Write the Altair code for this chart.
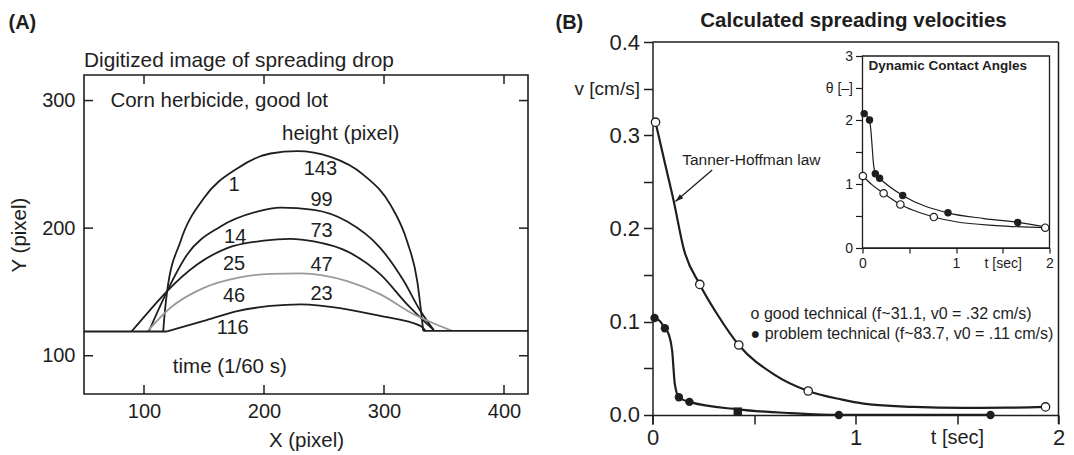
import altair as alt
import pandas as pd

FONT = "Liberation Sans"
INK = "#1e1e1e"

a_x_ticks = [100, 200, 300, 400]
a_y_ticks = [100, 200, 300]
a_frame = {"x": [50], "x2": [420], "y": [70], "y2": [320]}   # axis limits of the framed plot

drop_1_x = [116, 117.4, 119.3, 130.4, 149.8, 177.7, 205.4, 227.7, 255.4, 283.2, 305.4, 319.3, 327.7, 332.7]
drop_1_y = [119, 135, 150.7, 189.6, 223.4, 246.8, 258.5, 260.3, 255.9, 241.6, 218.2, 189.6, 158.5, 119.5]
drop_14_x = [104, 119.3, 136, 163.8, 194.3, 213.8, 241.5, 269.3, 297, 316.5, 330.4, 341.5]
drop_14_y = [119, 150.7, 179.3, 201.3, 213, 216.1, 214.3, 205.2, 184.4, 158.5, 135, 120]
drop_25_x = [89.6, 104.3, 119.3, 144.3, 169.3, 199.8, 222, 241.5, 269.3, 297, 319.3, 341.5]
drop_25_y = [119, 135, 150.7, 171.5, 184.4, 190.2, 191.6, 189.6, 181.8, 163.7, 140.3, 120]
drop_46_x = [102.7, 122, 149.8, 177.7, 205.4, 230.4, 269.3, 297, 324.8, 356.8]
drop_46_y = [119, 137.6, 153.2, 161, 164.2, 164.6, 158.5, 148.1, 132.5, 119.5]
drop_116_x = [119.3, 149.8, 177.7, 205.4, 230.4, 269.3, 297, 330.4, 334.6]
drop_116_y = [119, 127.3, 135, 139, 140.3, 136.4, 131.2, 123.4, 119.5]
base_left_x = [50, 119.3]
base_left_y = [119, 119]
base_right_x = [332.7, 420]
base_right_y = [119.5, 119.5]

time_labels = ["1", "14", "25", "46", "116"]
time_label_x = [175, 176, 175, 175, 174]
time_label_y = [233.8, 192.7, 171.9, 146.8, 122]
height_labels = ["143", "99", "73", "47", "23"]
height_label_x = [247, 248, 248, 248, 248]
height_label_y = [246.3, 222.1, 197.4, 170.9, 148.1]

a_notes = ["Corn herbicide, good lot", "height (pixel)", "time (1/60 s)"]
a_notes_x = [72, 215, 124]
a_notes_y = [300, 274, 91]

# ---------------- Panel B : spreading velocities ----------------
good_t = [0.015, 0.233, 0.425, 0.767, 1.936]
good_v = [0.314, 0.140, 0.075, 0.0257, 0.0086]
prob_t = [0.01, 0.061, 0.13, 0.182, 0.42, 0.918, 1.665]
prob_v = [0.104, 0.093, 0.019, 0.014, 0.0036, 0.0, 0.0]
prob_shape = ["circle", "circle", "circle", "circle", "square", "circle", "circle"]

good_fit_t = [0.015, 0.059, 0.105, 0.154, 0.233, 0.319, 0.425, 0.598, 0.767, 0.926, 1.04, 1.287, 1.533, 1.75, 1.936]
good_fit_v = [0.314, 0.272, 0.229, 0.178, 0.140, 0.108, 0.075, 0.0436, 0.0257, 0.0168, 0.0121, 0.0086, 0.0076, 0.0078, 0.0086]
prob_fit_t = [0.01, 0.035, 0.061, 0.08, 0.097, 0.11, 0.13, 0.182, 0.42, 0.68, 0.918, 1.665]
prob_fit_v = [0.104, 0.101, 0.093, 0.0865, 0.0686, 0.033, 0.019, 0.014, 0.006, 0.002, 0.0, 0.0]

b_y_ticks = [0.0, 0.05, 0.1, 0.15, 0.2, 0.25, 0.3, 0.35, 0.4]
b_y_labels = ["0.0", "", "0.1", "", "0.2", "", "0.3", "v [cm/s]", "0.4"]
b_x_ticks = [0, 0.5, 1, 1.5, 2]
b_x_labels = ["0", "", "1", "t [sec]", "2"]

b_notes = ["Tanner-Hoffman law",
           "o good technical (f~31.1, v0 = .32 cm/s)",
           "\u25cf problem technical (f~83.7, v0 = .11 cm/s)"]
b_notes_t = [0.146, 0.483, 0.483]
b_notes_v = [0.273, 0.108, 0.0871]
arrow_tail = [0.294, 0.2626]
arrow_tip = [0.113, 0.229]

# ---------------- Inset : dynamic contact angles ----------------
in_good_t = [0.004, 0.226, 0.405, 0.763, 1.954]
in_good_th = [1.125, 0.855, 0.68, 0.484, 0.317]
in_prob_t = [0.018, 0.075, 0.137, 0.183, 0.43, 0.914, 1.66]
in_prob_th = [2.10, 2.0, 1.16, 1.09, 0.82, 0.55, 0.40]
in_good_fit_t = [0.004, 0.1, 0.226, 0.405, 0.55, 0.763, 1.0, 1.43, 1.954]
in_good_fit_th = [1.125, 0.99, 0.855, 0.68, 0.585, 0.484, 0.41, 0.35, 0.317]
in_prob_fit_t = [0.018, 0.075, 0.09, 0.118, 0.137, 0.183, 0.43, 0.914, 1.3, 1.66, 1.954]
in_prob_fit_th = [2.10, 2.0, 1.83, 1.31, 1.16, 1.09, 0.82, 0.55, 0.46, 0.40, 0.33]
in_y_ticks = [0, 0.5, 1, 1.5, 2, 2.5, 3]
in_y_labels = ["0", "", "1", "", "2", "\u03b8 [\u2013]", "3"]
in_x_ticks = [0, 0.5, 1, 1.5, 2]
in_x_labels = ["0", "", "1", "t [sec]", "2"]


def label_expr(vals, labs):
    expr = "''"
    for v, l in zip(vals, labs):
        expr = f"abs(datum.value - {v}) < 1e-6 ? '{l}' : ({expr})"
    return expr


one = pd.DataFrame({"k": [0]})

# ======================= Panel A chart =======================
A_W, A_H = 444, 352
A_TOP = 33          # pixel offset of the framed area below the common top line
curves = []
for name, xs, ys, col in [
    ("1", drop_1_x, drop_1_y, INK), ("14", drop_14_x, drop_14_y, INK),
    ("25", drop_25_x, drop_25_y, INK), ("46", drop_46_x, drop_46_y, "#9a9a9a"),
    ("116", drop_116_x, drop_116_y, INK), ("bl", base_left_x, base_left_y, INK),
    ("br", base_right_x, base_right_y, INK)]:
    for i, (x, y) in enumerate(zip(xs, ys)):
        curves.append({"curve": name, "o": i, "x": x, "y": y, "col": col})
dfA = pd.DataFrame(curves)

sxA = alt.Scale(domain=[50, 420], nice=False, zero=False)
syA = alt.Scale(domain=[70, 345.9], nice=False, zero=False)
axXA = alt.Axis(values=a_x_ticks, title="X (pixel)", grid=False, domain=False, ticks=False,
                labelPadding=7, labelFontSize=20, labelFont=FONT, labelColor=INK, labelFlush=False,
                titleFont=FONT, titleFontSize=20.5, titleFontWeight="normal", titleColor=INK, titlePadding=9)
axYA = alt.Axis(values=a_y_ticks, title="Y (pixel)", grid=False, domain=False, ticks=False,
                labelPadding=9, labelFontSize=20, labelFont=FONT, labelColor=INK, labelFlush=False,
                titleFont=FONT, titleFontSize=20.5, titleFontWeight="normal", titleColor=INK, titlePadding=12,
                titleY=A_TOP + (A_H - A_TOP) / 2)
XA = alt.X("x:Q", scale=sxA, axis=axXA)
YA = alt.Y("y:Q", scale=syA, axis=axYA)

a_box = alt.Chart(pd.DataFrame(a_frame)).mark_rect(fill="transparent", stroke=INK, strokeWidth=1.6).encode(
    x=XA, x2="x2:Q", y=YA, y2="y2:Q")
a_lines = alt.Chart(dfA).mark_line(interpolate="monotone", strokeWidth=1.8).encode(
    x=XA, y=YA, detail="curve:N", order="o:Q", color=alt.Color("col:N", scale=None))

dfXT = pd.DataFrame({"x": a_x_ticks})
dfYT = pd.DataFrame({"y": a_y_ticks})
tick_style = dict(color=INK, strokeWidth=1.5)
a_tb = alt.Chart(dfXT).mark_rule(**tick_style).encode(x=XA, y=alt.value(A_H), y2=alt.value(A_H - 9))
a_tt = alt.Chart(dfXT).mark_rule(**tick_style).encode(x=XA, y=alt.value(A_TOP), y2=alt.value(A_TOP + 9))
a_tl = alt.Chart(dfYT).mark_rule(**tick_style).encode(y=YA, x=alt.value(0), x2=alt.value(9))
a_tr = alt.Chart(dfYT).mark_rule(**tick_style).encode(y=YA, x=alt.value(A_W), x2=alt.value(A_W - 9))

dfLab = pd.DataFrame({"x": time_label_x + height_label_x, "y": time_label_y + height_label_y,
                      "t": time_labels + height_labels})
a_nums = alt.Chart(dfLab).mark_text(font=FONT, fontSize=20, color=INK, align="center", baseline="middle").encode(
    x=XA, y=YA, text="t:N")
dfNotes = pd.DataFrame({"x": a_notes_x, "y": a_notes_y, "t": a_notes})
a_notes_l = alt.Chart(dfNotes).mark_text(font=FONT, fontSize=20.5, color=INK, align="left", baseline="middle").encode(
    x=XA, y=YA, text="t:N")

a_tag = alt.Chart(one).mark_text(text="(A)", font=FONT, fontSize=20, fontWeight="bold", color=INK,
                                 align="left", baseline="middle").encode(x=alt.value(-75.5), y=alt.value(-19))
a_title = alt.Chart(one).mark_text(text="Digitized image of spreading drop", font=FONT, fontSize=20.8, color=INK,
                                   align="left", baseline="middle").encode(x=alt.value(0), y=alt.value(19))
anchor = alt.Chart(one).mark_rule(opacity=0, strokeWidth=0).encode(
    x=alt.value(-83.5), x2=alt.value(-83.5), y=alt.value(-41), y2=alt.value(-40.5))

panelA = alt.layer(a_box, a_lines, a_tb, a_tt, a_tl, a_tr, a_nums, a_notes_l, a_tag, a_title, anchor).properties(
    width=A_W, height=A_H, view=alt.ViewBackground(stroke="transparent", fill="white"))

# ======================= Panel B chart =======================
B_W, B_H = 406, 382
B_ZERO = 9          # the t axis sits on v = 0, a little above the bottom of the frame
sxB = alt.Scale(domain=[0, 2], nice=False, zero=False)
syB = alt.Scale(domain=[-0.0097, 0.4], nice=False, zero=False)
axXB = alt.Axis(values=b_x_ticks, labelExpr=label_expr(b_x_ticks, b_x_labels), title=None, grid=False,
                offset=-B_ZERO,
                domainColor=INK, domainWidth=1.5, tickColor=INK, tickWidth=1.5, tickSize=9,
                labelPadding=3, labelFont=FONT, labelColor=INK, labelFlush=False, labelOverlap=False,
                labelFontSize={"condition": {"test": "datum.value == 1.5", "value": 20}, "value": 22})
axYB = alt.Axis(values=b_y_ticks, labelExpr=label_expr(b_y_ticks, b_y_labels), title=None, grid=False,
                domainColor=INK, domainWidth=1.5, tickColor=INK, tickWidth=1.5, tickSize=9,
                labelPadding=4, labelFont=FONT, labelColor=INK, labelFlush=False, labelOverlap=False,
                labelFontSize={"condition": {"test": "datum.value == 0.35", "value": 19}, "value": 22})
XB = alt.X("t:Q", scale=sxB, axis=axXB)
YB = alt.Y("v:Q", scale=syB, axis=axYB)

fitB = pd.DataFrame({"t": good_fit_t + prob_fit_t, "v": good_fit_v + prob_fit_v,
                     "s": ["good"] * len(good_fit_t) + ["prob"] * len(prob_fit_t),
                     "o": list(range(len(good_fit_t))) + list(range(len(prob_fit_t)))})
b_lines = alt.Chart(fitB).mark_line(interpolate="monotone", strokeWidth=2.2, color=INK).encode(
    x=XB, y=YB, detail="s:N", order="o:Q")
b_good = alt.Chart(pd.DataFrame({"t": good_t, "v": good_v})).mark_point(
    shape="circle", filled=True, fill="white", stroke=INK, strokeWidth=1.3, size=70, opacity=1).encode(x=XB, y=YB)
b_prob = alt.Chart(pd.DataFrame({"t": prob_t, "v": prob_v, "sh": prob_shape})).mark_point(
    filled=True, color=INK, size=70, opacity=1).encode(x=XB, y=YB, shape=alt.Shape("sh:N", scale=None))

b_txt = alt.Chart(pd.DataFrame({"t": b_notes_t, "v": b_notes_v, "txt": b_notes, "fs": [15.5, 16, 16]})).mark_text(
    font=FONT, color=INK, align="left", baseline="middle").encode(
    x=XB, y=YB, text="txt:N", size=alt.Size("fs:Q", scale=None))
b_arrow = alt.Chart(pd.DataFrame({"t": [arrow_tail[0]], "v": [arrow_tail[1]],
                                  "t2": [arrow_tip[0]], "v2": [arrow_tip[1]]})).mark_rule(
    color=INK, strokeWidth=1.3).encode(x=XB, y=YB, x2="t2:Q", y2="v2:Q")
b_head = alt.Chart(pd.DataFrame({"t": [arrow_tip[0]], "v": [arrow_tip[1]]})).mark_point(
    shape="M0,0L-0.8,2.4L0.8,2.4Z", filled=True, color=INK, size=45, angle=230, opacity=1).encode(x=XB, y=YB)

b_top = alt.Chart(one).mark_rule(color=INK, strokeWidth=1.5).encode(
    x=alt.value(0), x2=alt.value(B_W), y=alt.value(0))
b_right = alt.Chart(one).mark_rule(color=INK, strokeWidth=1.5).encode(
    x=alt.value(B_W), y=alt.value(0), y2=alt.value(B_H))

b_tag = alt.Chart(one).mark_text(text="(B)", font=FONT, fontSize=20, fontWeight="bold", color=INK,
                                 align="left", baseline="middle").encode(x=alt.value(-97), y=alt.value(-19))
b_title = alt.Chart(one).mark_text(text="Calculated spreading velocities", font=FONT, fontSize=20.5,
                                   fontWeight="bold", color=INK, align="center", baseline="middle").encode(
    x=alt.value(B_W / 2 - 2), y=alt.value(-21))

main_b = alt.layer(b_lines, b_good, b_prob, b_txt, b_arrow, b_head, b_top, b_right, b_tag, b_title)

# ======================= Inset (own scales, placed inside panel B) =======================
I_X0, I_X1 = 210, 397      # inset plot frame inside panel B (pixels)
I_Y0, I_Y1 = 14, 206
sxI = alt.Scale(domain=[0, 2], nice=False, zero=False, range=[I_X0, I_X1])
syI = alt.Scale(domain=[0, 3], nice=False, zero=False, range=[I_Y1, I_Y0])
axXI = alt.Axis(values=in_x_ticks, labelExpr=label_expr(in_x_ticks, in_x_labels), title=None, grid=False,
                orient="bottom", offset=I_Y1 - B_H,
                domainColor=INK, domainWidth=1.2, tickColor=INK, tickWidth=1.2, tickSize=5,
                labelPadding=3, labelFontSize=14, labelFont=FONT, labelColor=INK, labelFlush=False,
                labelOverlap=False)
axYI = alt.Axis(values=in_y_ticks, labelExpr=label_expr(in_y_ticks, in_y_labels), title=None, grid=False,
                orient="left", offset=-I_X0,
                domainColor=INK, domainWidth=1.2, tickColor=INK, tickWidth=1.2, tickSize=7,
                labelPadding=3, labelFontSize=14, labelFont=FONT, labelColor=INK, labelFlush=False,
                labelOverlap=False)
XI = alt.X("t:Q", scale=sxI, axis=axXI)
YI = alt.Y("th:Q", scale=syI, axis=axYI)

i_frame = alt.Chart(pd.DataFrame({"t": [0], "t2": [2], "th": [0], "th2": [3]})).mark_rect(
    fill="white", stroke=INK, strokeWidth=1.3).encode(x=XI, x2="t2:Q", y=YI, y2="th2:Q")
fitI = pd.DataFrame({"t": in_good_fit_t + in_prob_fit_t, "th": in_good_fit_th + in_prob_fit_th,
                     "s": ["good"] * len(in_good_fit_t) + ["prob"] * len(in_prob_fit_t),
                     "o": list(range(len(in_good_fit_t))) + list(range(len(in_prob_fit_t)))})
i_lines = alt.Chart(fitI).mark_line(interpolate="monotone", strokeWidth=1.2, color=INK).encode(
    x=XI, y=YI, detail="s:N", order="o:Q")
i_good = alt.Chart(pd.DataFrame({"t": in_good_t, "th": in_good_th})).mark_point(
    shape="circle", filled=True, fill="white", stroke=INK, strokeWidth=1.2, size=55, opacity=1).encode(x=XI, y=YI)
i_prob = alt.Chart(pd.DataFrame({"t": in_prob_t, "th": in_prob_th})).mark_point(
    shape="circle", filled=True, color=INK, size=55, opacity=1).encode(x=XI, y=YI)
i_title = alt.Chart(one).mark_text(text="Dynamic Contact Angles", font=FONT, fontSize=13.5, fontWeight="bold",
                                   color=INK, align="left", baseline="middle").encode(
    x=alt.value(I_X0 + 6), y=alt.value(I_Y0 + 10))

inset = alt.layer(i_frame, i_lines, i_good, i_prob, i_title)

panelB = alt.layer(main_b, inset).resolve_scale(x="independent", y="independent").properties(
    width=B_W, height=B_H, view=alt.ViewBackground(stroke="transparent", fill="white"))

chart = alt.hconcat(panelA, panelB, spacing=124.5, bounds="flush").properties(padding=0).configure(font=FONT)

chart.save("out.html", embed_options={"renderer": "svg", "actions": False})
